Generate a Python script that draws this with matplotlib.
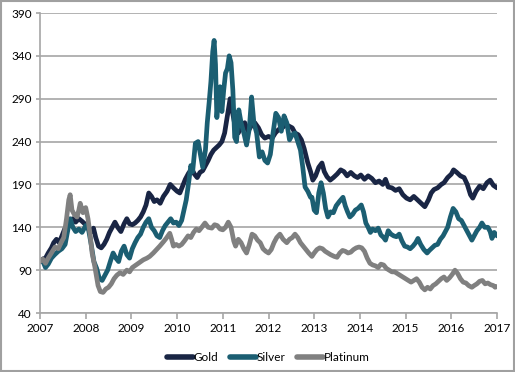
import matplotlib
matplotlib.use("Agg")
import matplotlib.pyplot as plt
from matplotlib.patches import Rectangle

# ---------------- data (decimal years, index values) ----------------
gold_x = [2007.00, 2007.06, 2007.12, 2007.18, 2007.25, 2007.30, 2007.36, 2007.42, 2007.48, 2007.54,
          2007.60, 2007.66, 2007.72, 2007.78, 2007.85, 2007.92, 2008.00, 2008.06, 2008.12, 2008.17,
          2008.22, 2008.28, 2008.34, 2008.40, 2008.46, 2008.52, 2008.58, 2008.64, 2008.70, 2008.77,
          2008.84, 2008.90, 2008.96, 2009.02, 2009.08, 2009.14, 2009.20, 2009.26, 2009.32, 2009.38,
          2009.44, 2009.50, 2009.56, 2009.63, 2009.70, 2009.78, 2009.85, 2009.92, 2010.00, 2010.06,
          2010.12, 2010.18, 2010.25, 2010.32, 2010.38, 2010.44, 2010.50, 2010.56, 2010.62, 2010.68,
          2010.74, 2010.80, 2010.86, 2010.92, 2010.98, 2011.04, 2011.10, 2011.16, 2011.22, 2011.28,
          2011.34, 2011.40, 2011.48, 2011.55, 2011.62, 2011.70, 2011.78, 2011.85, 2011.92, 2012.00,
          2012.08, 2012.15, 2012.22, 2012.30, 2012.38, 2012.45, 2012.52, 2012.58, 2012.65, 2012.72,
          2012.78, 2012.86, 2012.92, 2012.97, 2013.03, 2013.10, 2013.17, 2013.22, 2013.28, 2013.35,
          2013.42, 2013.50, 2013.58, 2013.65, 2013.72, 2013.80, 2013.88, 2013.95, 2014.02, 2014.10,
          2014.18, 2014.26, 2014.34, 2014.42, 2014.50, 2014.56, 2014.62, 2014.70, 2014.78, 2014.86,
          2014.94, 2015.02, 2015.10, 2015.18, 2015.26, 2015.34, 2015.42, 2015.50, 2015.56, 2015.62,
          2015.70, 2015.78, 2015.84, 2015.92, 2016.00, 2016.05, 2016.12, 2016.20, 2016.28, 2016.35,
          2016.42, 2016.47, 2016.54, 2016.62, 2016.70, 2016.78, 2016.85, 2016.92, 2017.00]
gold_y = [100, 103, 104, 110, 116, 122, 126, 122, 130, 138,
          142, 148, 150, 146, 150, 147, 143, 138, 135, 139,
          128, 118, 116, 120, 126, 134, 140, 146, 140, 135,
          144, 150, 144, 143, 145, 148, 152, 158, 166, 180,
          176, 170, 172, 168, 176, 182, 190, 186, 182, 180,
          188, 196, 203, 208, 202, 198, 204, 206, 212, 218,
          225, 230, 233, 236, 240, 250, 270, 290, 272, 255,
          250, 258, 262, 252, 258, 262, 256, 248, 244, 246,
          244, 250, 254, 256, 260, 258, 256, 250, 248, 242,
          232, 215, 205, 195, 200, 210, 215, 205, 199, 195,
          198, 202, 207, 205, 200, 204, 200, 198, 201, 196,
          200, 197, 192, 194, 190, 196, 187, 186, 183, 185,
          178, 174, 172, 176, 172, 168, 164, 172, 180, 184,
          186, 190, 192, 198, 202, 207, 204, 200, 198, 190,
          178, 174, 182, 188, 185, 192, 195, 189, 186]

silver_x = [2007.00, 2007.05, 2007.12, 2007.18, 2007.25, 2007.32, 2007.40, 2007.48, 2007.55, 2007.62,
            2007.66, 2007.72, 2007.78, 2007.85, 2007.92, 2008.00, 2008.06, 2008.12, 2008.18, 2008.24,
            2008.30, 2008.36, 2008.42, 2008.48, 2008.55, 2008.60, 2008.66, 2008.72, 2008.78, 2008.84,
            2008.90, 2008.96, 2009.02, 2009.08, 2009.14, 2009.20, 2009.26, 2009.32, 2009.38, 2009.44,
            2009.50, 2009.56, 2009.62, 2009.68, 2009.74, 2009.80, 2009.86, 2009.92, 2009.98, 2010.04,
            2010.10, 2010.15, 2010.20, 2010.26, 2010.30, 2010.34, 2010.40, 2010.46, 2010.52, 2010.56,
            2010.62, 2010.66, 2010.70, 2010.74, 2010.78, 2010.81, 2010.84, 2010.87, 2010.90, 2010.94,
            2010.98, 2011.02, 2011.06, 2011.10, 2011.14, 2011.18, 2011.22, 2011.26, 2011.30, 2011.35,
            2011.40, 2011.46, 2011.52, 2011.58, 2011.63, 2011.68, 2011.74, 2011.80, 2011.86, 2011.92,
            2011.98, 2012.04, 2012.10, 2012.16, 2012.22, 2012.28, 2012.34, 2012.40, 2012.46, 2012.52,
            2012.58, 2012.64, 2012.70, 2012.75, 2012.80, 2012.86, 2012.92, 2012.95, 2013.00, 2013.05,
            2013.10, 2013.15, 2013.20, 2013.25, 2013.30, 2013.36, 2013.42, 2013.48, 2013.55, 2013.63,
            2013.68, 2013.73, 2013.78, 2013.84, 2013.90, 2013.96, 2014.03, 2014.08, 2014.13, 2014.18,
            2014.23, 2014.28, 2014.34, 2014.40, 2014.46, 2014.52, 2014.56, 2014.62, 2014.68, 2014.74,
            2014.80, 2014.86, 2014.92, 2014.98, 2015.04, 2015.10, 2015.16, 2015.22, 2015.27, 2015.33,
            2015.40, 2015.47, 2015.52, 2015.58, 2015.64, 2015.70, 2015.76, 2015.82, 2015.87, 2015.92,
            2015.98, 2016.04, 2016.10, 2016.16, 2016.22, 2016.28, 2016.34, 2016.40, 2016.45, 2016.50,
            2016.56, 2016.62, 2016.67, 2016.73, 2016.80, 2016.85, 2016.89, 2016.94, 2017.00]
silver_y = [100, 102, 93, 97, 104, 108, 112, 115, 120, 140,
            150, 140, 135, 138, 134, 142, 138, 120, 100, 92,
            80, 78, 84, 90, 102, 110, 104, 100, 112, 118,
            108, 104, 115, 122, 128, 132, 140, 146, 150, 140,
            136, 130, 128, 136, 142, 146, 150, 145, 146, 142,
            148, 160, 172, 195, 212, 205, 238, 240, 222, 210,
            230, 262, 285, 310, 345, 358, 330, 268, 290, 304,
            275, 300, 320, 325, 340, 332, 300, 245, 240, 277,
            262, 250, 236, 255, 292, 262, 250, 222, 228, 218,
            215, 225, 250, 273, 268, 252, 270, 262, 242, 248,
            250, 240, 230, 210, 187, 182, 175, 175, 160, 157,
            180, 192, 180, 162, 152, 158, 157, 165, 170, 175,
            165, 158, 152, 155, 160, 162, 166, 158, 145, 140,
            134, 138, 136, 139, 131, 128, 125, 136, 132, 130,
            129, 132, 124, 118, 117, 115, 118, 122, 127, 120,
            114, 110, 113, 116, 119, 120, 126, 130, 135, 140,
            152, 162, 158, 150, 148, 142, 136, 130, 125, 130,
            136, 140, 145, 140, 140, 135, 127, 134, 130]

plat_x = [2007.00, 2007.06, 2007.12, 2007.18, 2007.25, 2007.33, 2007.40, 2007.46, 2007.52, 2007.58,
          2007.63, 2007.66, 2007.70, 2007.75, 2007.81, 2007.85, 2007.88, 2007.94, 2008.00, 2008.05,
          2008.10, 2008.14, 2008.20, 2008.27, 2008.32, 2008.38, 2008.44, 2008.50, 2008.56, 2008.62,
          2008.68, 2008.75, 2008.82, 2008.90, 2008.96, 2009.02, 2009.10, 2009.18, 2009.26, 2009.34,
          2009.40, 2009.48, 2009.55, 2009.62, 2009.70, 2009.76, 2009.84, 2009.88, 2009.92, 2009.98,
          2010.04, 2010.10, 2010.16, 2010.24, 2010.30, 2010.36, 2010.42, 2010.48, 2010.54, 2010.61,
          2010.68, 2010.76, 2010.82, 2010.88, 2010.94, 2011.00, 2011.06, 2011.12, 2011.18, 2011.24,
          2011.28, 2011.34, 2011.40, 2011.46, 2011.52, 2011.58, 2011.64, 2011.70, 2011.76, 2011.82,
          2011.88, 2011.94, 2012.00, 2012.06, 2012.12, 2012.18, 2012.25, 2012.32, 2012.40, 2012.46,
          2012.52, 2012.58, 2012.64, 2012.70, 2012.76, 2012.82, 2012.88, 2012.95, 2013.00, 2013.06,
          2013.12, 2013.18, 2013.24, 2013.30, 2013.36, 2013.44, 2013.50, 2013.56, 2013.62, 2013.68,
          2013.74, 2013.80, 2013.86, 2013.92, 2013.98, 2014.04, 2014.10, 2014.16, 2014.22, 2014.28,
          2014.34, 2014.40, 2014.46, 2014.52, 2014.58, 2014.64, 2014.70, 2014.76, 2014.82, 2014.88,
          2014.94, 2015.00, 2015.06, 2015.12, 2015.18, 2015.24, 2015.30, 2015.36, 2015.42, 2015.48,
          2015.54, 2015.60, 2015.66, 2015.72, 2015.78, 2015.84, 2015.90, 2015.96, 2016.02, 2016.08,
          2016.14, 2016.20, 2016.26, 2016.32, 2016.38, 2016.45, 2016.50, 2016.56, 2016.62, 2016.68,
          2016.74, 2016.80, 2016.86, 2016.92, 2016.96, 2017.00]
plat_y = [100, 103, 98, 104, 110, 117, 115, 122, 128, 150,
          172, 178, 160, 155, 152, 160, 168, 157, 163, 150,
          130, 110, 94, 72, 65, 64, 68, 70, 74, 80,
          84, 87, 85, 90, 88, 93, 96, 99, 102, 104,
          106, 110, 114, 118, 123, 127, 133, 126, 118, 120,
          118, 120, 124, 130, 128, 134, 138, 136, 140, 145,
          140, 139, 143, 142, 138, 137, 140, 146, 140, 124,
          118, 126, 122, 115, 110, 120, 132, 130, 125, 122,
          115, 112, 110, 114, 122, 128, 132, 126, 122, 126,
          128, 132, 128, 122, 118, 114, 110, 106, 110, 114,
          116, 115, 112, 110, 108, 106, 105, 110, 113, 112,
          110, 111, 114, 116, 117, 116, 112, 104, 98, 96,
          95, 93, 97, 96, 92, 90, 88, 88, 86, 84,
          82, 80, 78, 76, 78, 80, 76, 70, 67, 70,
          68, 72, 74, 77, 80, 82, 78, 81, 85, 90,
          86, 80, 76, 75, 72, 70, 72, 74, 77, 78,
          74, 75, 73, 72, 70, 71]

series_names = ["Gold", "Silver", "Platinum"]
series_colors = ["#192544", "#1b5e72", "#808080"]
y_ticks = [40, 90, 140, 190, 240, 290, 340, 390]
x_ticks = list(range(2007, 2018))

# ---------------- figure ----------------
plt.rcParams['font.family'] = ['Lato', 'DejaVu Sans']
fig = plt.figure(figsize=(5.15, 3.72), dpi=100)
ax = fig.add_axes([40 / 515, 1 - 313 / 372, 457 / 515, 300 / 372])

for xs, ys, name, col in zip([gold_x, silver_x, plat_x], [gold_y, silver_y, plat_y],
                             series_names, series_colors):
    ax.plot(xs, ys, color=col, lw=3.4, label=name, solid_joinstyle='round', solid_capstyle='round')

ax.set_xlim(2007, 2017)
ax.set_ylim(40, 390)
ax.set_yticks(y_ticks)
ax.set_xticks(x_ticks)
ax.set_xticklabels([str(v) for v in x_ticks])
ax.yaxis.grid(True, color="#a6a6a6", lw=1.2)
ax.set_axisbelow(True)
for s in ["top", "right"]:
    ax.spines[s].set_visible(False)
for s in ["left", "bottom"]:
    ax.spines[s].set_color("#a6a6a6")
    ax.spines[s].set_linewidth(1.2)
ax.tick_params(axis='x', length=4, width=1.2, color="#a6a6a6", labelsize=8.5, pad=3, labelcolor="#000000")
ax.tick_params(axis='y', length=3, width=1.2, color="#a6a6a6", labelsize=8.5, pad=3, labelcolor="#000000")

leg = ax.legend(loc='upper center', bbox_to_anchor=(0.5, -0.095), ncol=3, frameon=False,
                fontsize=8.5, handlelength=2.2, handletextpad=0.05, columnspacing=1.0)
for h in leg.get_lines():
    h.set_linewidth(4)

fig.patches.append(Rectangle((0.002, 0.003), 0.996, 0.994, transform=fig.transFigure,
                             fill=False, edgecolor="#a0a0a0", lw=1.5))

fig.savefig("out.png", dpi=100)
